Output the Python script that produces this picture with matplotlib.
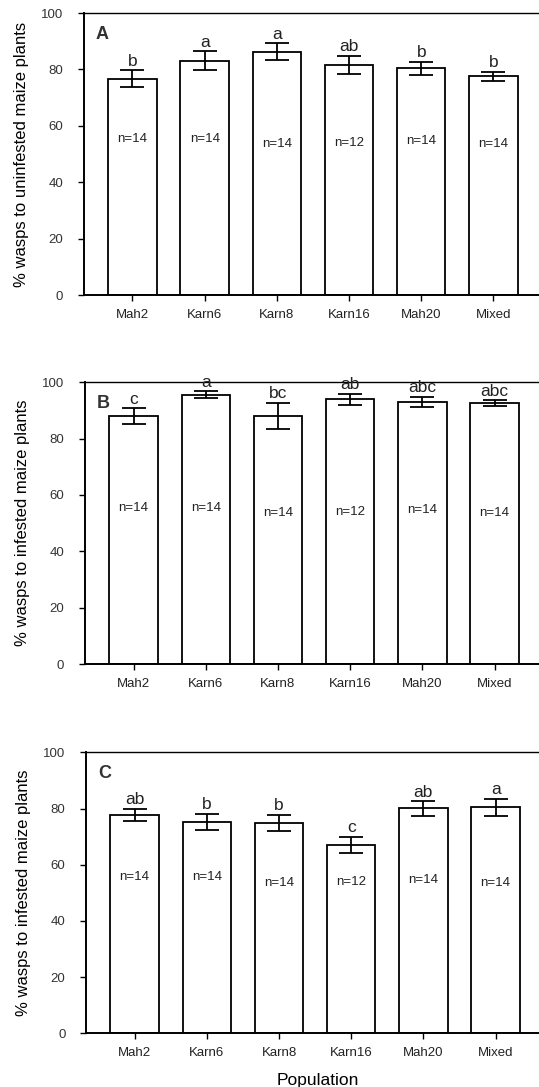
import matplotlib
matplotlib.use('Agg')
import matplotlib.pyplot as plt

plt.rcParams['font.family'] = ['Liberation Sans', 'DejaVu Sans']

populations = ['Mah2', 'Karn6', 'Karn8', 'Karn16', 'Mah20', 'Mixed']
n_labels = ['n=14', 'n=14', 'n=14', 'n=12', 'n=14', 'n=14']

mean_a = [76.7, 83.1, 86.3, 81.6, 80.4, 77.5]
err_a = [3.0, 3.4, 3.0, 3.3, 2.4, 1.7]
sig_a = ['b', 'a', 'a', 'ab', 'b', 'b']

mean_b = [88.0, 95.6, 88.0, 94.0, 93.0, 92.6]
err_b = [2.9, 1.3, 4.7, 2.0, 1.9, 1.0]
sig_b = ['c', 'a', 'bc', 'ab', 'abc', 'abc']

mean_c = [77.8, 75.3, 74.9, 67.0, 80.1, 80.5]
err_c = [2.1, 2.9, 2.9, 3.0, 2.6, 3.0]
sig_c = ['ab', 'b', 'b', 'c', 'ab', 'a']

n_ypos = [55.5, 55.5, 53.5, 54, 54.5, 53.5]

panels = [
    ('A', mean_a, err_a, sig_a, '% wasps to uninfested maize plants'),
    ('B', mean_b, err_b, sig_b, '% wasps to infested maize plants'),
    ('C', mean_c, err_c, sig_c, '% wasps to infested maize plants'),
]

fig = plt.figure(figsize=(5.39, 10.87), dpi=100)
boxes = [(0.156, 0.7286, 0.86, 0.2594),
         (0.158, 0.3891, 0.86, 0.2592),
         (0.160, 0.0494, 0.86, 0.2585)]

x = list(range(len(populations)))

for (letter, means, errs, sigs, ylabel), box in zip(panels, boxes):
    ax = fig.add_axes(box)
    ax.bar(x, means, width=0.67, color='white', edgecolor='black', linewidth=1.3)
    ax.errorbar(x, means, yerr=errs, fmt='none', ecolor='black',
                elinewidth=1.3, capsize=8.5, capthick=1.3)
    for xi, m, e, s in zip(x, means, errs, sigs):
        ax.text(xi, m + e + 0.5, s, ha='center', va='bottom', fontsize=12.5,
                color='#222222')
    for xi, lab, yp in zip(x, n_labels, n_ypos):
        ax.text(xi, yp, lab, ha='center', va='center', fontsize=9.5,
                color='#222222')
    ax.text(0.025, 0.955, letter, transform=ax.transAxes, ha='left', va='top',
            fontsize=13, fontweight='bold', color='#333333')
    ax.set_xlim(-0.67, 5.75)
    ax.set_ylim(0, 100)
    ax.set_yticks([0, 20, 40, 60, 80, 100])
    ax.set_xticks(x)
    ax.set_xticklabels(populations, fontsize=9.5, color='#222222')
    ax.tick_params(axis='y', labelsize=9.5, labelcolor='#333333', length=4,
                   width=1, pad=11)
    ax.tick_params(axis='x', length=4, width=1, pad=6)
    ax.spines['right'].set_visible(False)
    for side in ['left', 'bottom']:
        ax.spines[side].set_linewidth(1.4)
    ax.spines['top'].set_linewidth(1.0)
    ax.set_ylabel(ylabel, fontsize=12, labelpad=9)

ax.set_xlabel('Population', fontsize=12.5, labelpad=10)

fig.savefig('out.png', dpi=100)
